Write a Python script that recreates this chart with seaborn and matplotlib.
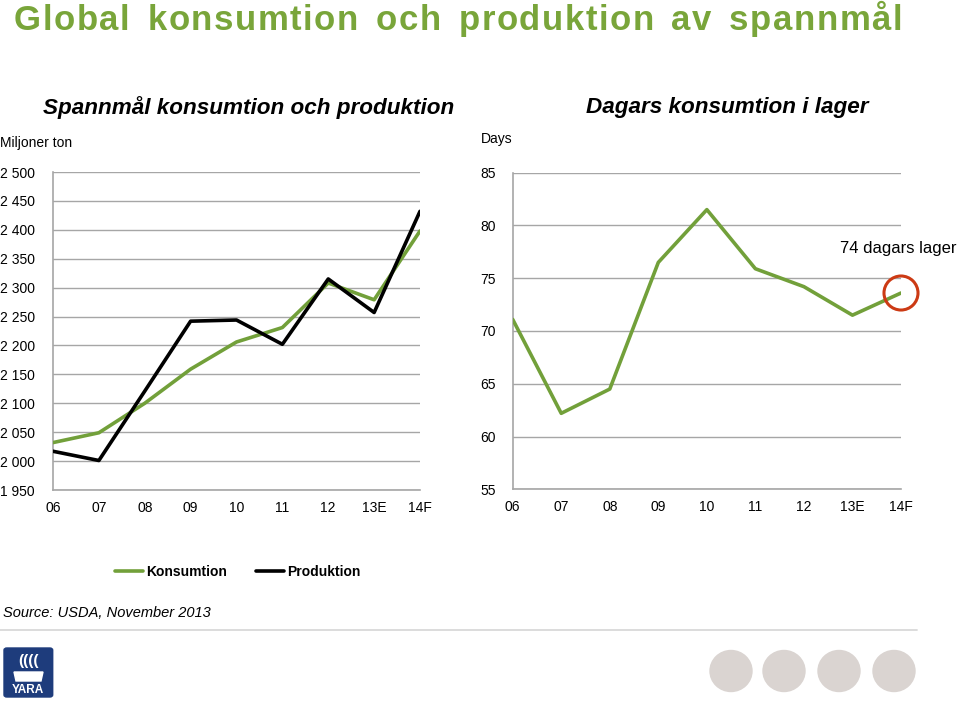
#!/usr/bin/env python
"""
global grain consumption / production and days of stock (USDA, nov 2013)
"""

import numpy as np
import pandas as pd
import seaborn as sns
import matplotlib.pyplot as plt
from matplotlib.patches import Ellipse, FancyBboxPatch, Polygon

## data
years = ["06", "07", "08", "09", "10", "11", "12", "13E", "14F"]
konsumtion = [2032, 2049, 2100, 2159, 2206, 2231, 2308, 2279, 2398]
produktion = [2017, 2001, 2121, 2242, 2244, 2202, 2315, 2257, 2432]
lager_dagar = [71.1, 62.2, 64.5, 76.5, 81.5, 75.9, 74.2, 71.5, 73.6]

left_ticks = list(range(1950, 2501, 50))
right_ticks = list(range(55, 86, 5))

## plot style, fonts and colors
sns.set_style("white")
plt.rcParams["font.family"] = ["Liberation Sans", "DejaVu Sans"]
plt.rcParams["text.color"] = "black"

GREEN = "#72a03a"
TITLE_GREEN = "#79a53a"
GRID = "#a6a6a6"
W, H = 959, 701


def fx(x):
    return x / W


def fy(y):
    return 1 - y / H


def style_axis(ax, ticks, labels, ypad):
    ax.set_xlim(0, len(years) - 1)
    ax.set_ylim(ticks[0], ticks[-1])
    ax.set_yticks(ticks)
    ax.set_yticklabels(labels)
    ax.set_xticks(range(len(years)))
    ax.set_xticklabels(years)
    ax.set_xlabel("")
    ax.set_ylabel("")
    ax.yaxis.grid(True, color=GRID, lw=1)
    ax.xaxis.grid(False)
    ax.set_axisbelow(True)
    for side in ["top", "right"]:
        ax.spines[side].set_visible(False)
    for side in ["left", "bottom"]:
        ax.spines[side].set_color(GRID)
        ax.spines[side].set_linewidth(1.2)
    ax.tick_params(axis="y", length=0, pad=ypad, labelsize=10, labelcolor="black")
    ax.tick_params(axis="x", length=0, pad=8, labelsize=10, labelcolor="black")


def spaced_title(fig, text, x0, x1, ybase, size, color):
    """draw text with letter spacing so it spans x0..x1 (pixels)"""
    renderer = fig.canvas.get_renderer()
    widths = []
    for c in text:
        if c == " ":
            widths.append(None)
            continue
        t = fig.text(0, 0, c, fontsize=size, weight="bold")
        widths.append(t.get_window_extent(renderer).width)
        t.remove()
    space_w = size * 100 / 72 * 0.42
    n_gaps = len(text) - 1
    ink = sum(w if w is not None else space_w for w in widths)
    gap = (x1 - x0 - ink) / n_gaps
    cur = x0
    for c, w in zip(text, widths):
        if w is None:
            cur += space_w + gap
            continue
        fig.text(fx(cur), fy(ybase), c, fontsize=size, weight="bold",
                 color=color, ha="left", va="baseline")
        cur += w + gap


def create_plot():
    fig = plt.figure(figsize=(W / 100, H / 100), dpi=100)

    ## left panel
    ax1 = fig.add_axes([fx(53), fy(490), 367 / W, 318 / H])
    df = pd.DataFrame({"year": years, "Konsumtion": konsumtion, "Produktion": produktion})
    sns.lineplot(data=df, x="year", y="Konsumtion", color=GREEN, lw=2.6, ax=ax1,
                 label="Konsumtion", legend=False, zorder=3)
    sns.lineplot(data=df, x="year", y="Produktion", color="black", lw=2.6, ax=ax1,
                 label="Produktion", legend=False, zorder=4)
    style_axis(ax1, left_ticks, [f"{v:,}".replace(",", " ") for v in left_ticks], 13)

    ## right panel
    ax2 = fig.add_axes([fx(512.7), fy(489.3), 388.3 / W, 316.6 / H])
    dfd = pd.DataFrame({"year": years, "dagar": lager_dagar})
    sns.lineplot(data=dfd, x="year", y="dagar", color=GREEN, lw=2.6, ax=ax2,
                 legend=False, zorder=3)
    style_axis(ax2, right_ticks, [str(v) for v in right_ticks], 12)
    ax2.scatter([len(years) - 1], [lager_dagar[-1]], s=600, facecolors="none",
                edgecolors="#cc3a14", linewidths=2.2, clip_on=False, zorder=5)
    ax2.annotate("74 dagars lager", xy=(len(years) - 1, lager_dagar[-1]),
                 xytext=(-2, 32), textcoords="offset points", ha="center",
                 va="center", fontsize=12, color="black", annotation_clip=False)

    ## titles and labels
    spaced_title(fig, "Global konsumtion och produktion av spannmål", 14, 902, 30,
                 25, TITLE_GREEN)
    fig.text(fx(249), fy(108), "Spannmål konsumtion och produktion", fontsize=16.2,
             weight="bold", style="italic", ha="center", va="center", color="black")
    fig.text(fx(727), fy(108), "Dagars konsumtion i lager", fontsize=16.2,
             weight="bold", style="italic", ha="center", va="center", color="black")
    fig.text(fx(0), fy(143), "Miljoner ton", fontsize=10, ha="left", va="center",
             color="black")
    fig.text(fx(481), fy(139), "Days", fontsize=10, ha="left", va="center",
             color="black")

    ## legend
    handles = ax1.get_lines()[:2]
    leg = fig.legend(handles, ["Konsumtion", "Produktion"], ncol=2, frameon=False,
                     loc="center left", bbox_to_anchor=(fx(115), fy(572)),
                     handlelength=2.0, handletextpad=0.25, columnspacing=2.1,
                     borderpad=0, borderaxespad=0, prop={"size": 10, "weight": "bold"})
    for line in leg.get_lines():
        line.set_linewidth(2.6)
    for txt in leg.get_texts():
        txt.set_color("black")

    fig.text(fx(3), fy(613), "Source: USDA, November 2013", fontsize=10.5,
             style="italic", ha="left", va="center", color="black")

    ## footer: separator, logo and decorative circles
    fig.add_artist(plt.Line2D([0, fx(917)], [fy(630), fy(630)], color="#d9d9d9",
                              lw=1.3, transform=fig.transFigure))
    fig.add_artist(FancyBboxPatch((fx(4), fy(697)), 48.7 / W, 49 / H,
                                  boxstyle="round,pad=0,rounding_size=0.003",
                                  color="#1e3c7c", transform=fig.transFigure))
    fig.text(fx(28.3), fy(690), "YARA", fontsize=8.5, weight="bold", color="white",
             ha="center", va="center")
    fig.text(fx(28.3), fy(661), "((((", fontsize=11, weight="bold", color="white",
             ha="center", va="center")
    hull = [(14, 672), (43, 672), (41, 681), (16, 681)]
    fig.add_artist(Polygon([(fx(x), fy(y)) for x, y in hull], closed=True,
                           color="white", transform=fig.transFigure))
    for cx in [731, 784, 839, 894]:
        fig.add_artist(Ellipse((fx(cx), fy(671)), 42 / W, 41 / H, color="#dad4d1",
                               transform=fig.transFigure))

    plt.savefig("out.png", dpi=100)


if __name__ == "__main__":
    create_plot()
